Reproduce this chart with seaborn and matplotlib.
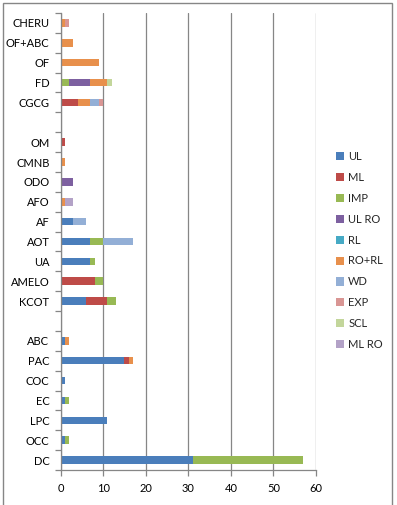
import numpy as np
import pandas as pd
import seaborn as sns
import matplotlib.pyplot as plt
from matplotlib.patches import Patch, Rectangle

# categories top to bottom (blank rows are spacers)
cats = ['CHERU', 'OF+ABC', 'OF', 'FD', 'CGCG', ' ',
        'OM', 'CMNB', 'ODO', 'AFO', 'AF', 'AOT', 'UA', 'AMELO', 'KCOT', '  ',
        'ABC', 'PAC', 'COC', 'EC', 'LPC', 'OCC', 'DC']

series = ['UL', 'ML', 'IMP', 'UL RO', 'RL', 'RO+RL', 'WD', 'EXP', 'SCL', 'ML RO']
colors = ['#4A7EBB', '#BE4B48', '#98B954', '#7D60A0', '#46AAC5',
          '#E8904C', '#93AFD6', '#D99694', '#C3D69B', '#B3A2C7']

#          CHERU OF+ABC OF FD CGCG _  OM CMNB ODO AFO AF AOT UA AMELO KCOT _ ABC PAC COC EC LPC OCC DC
ul     = [0, 0, 0, 0, 0, 0, 0, 0, 0, 0, 3, 7, 7, 0, 6, 0, 1, 15, 1, 1, 11, 1, 31]
ml     = [0, 0, 0, 0, 4, 0, 1, 0, 0, 0, 0, 0, 0, 8, 5, 0, 0, 1, 0, 0, 0, 0, 0]
imp    = [0, 0, 0, 2, 0, 0, 0, 0, 0, 0, 0, 3, 1, 2, 2, 0, 0, 0, 0, 1, 0, 1, 26]
ul_ro  = [0, 0, 0, 5, 0, 0, 0, 0, 3, 0, 0, 0, 0, 0, 0, 0, 0, 0, 0, 0, 0, 0, 0]
rl     = [0, 0, 0, 0, 0, 0, 0, 0, 0, 0, 0, 0, 0, 0, 0, 0, 0, 0, 0, 0, 0, 0, 0]
ro_rl  = [1, 3, 9, 4, 3, 0, 0, 1, 0, 1, 0, 0, 0, 0, 0, 0, 1, 1, 0, 0, 0, 0, 0]
wd     = [0, 0, 0, 0, 2, 0, 0, 0, 0, 0, 3, 7, 0, 0, 0, 0, 0, 0, 0, 0, 0, 0, 0]
exp    = [1, 0, 0, 0, 1, 0, 0, 0, 0, 0, 0, 0, 0, 0, 0, 0, 0, 0, 0, 0, 0, 0, 0]
scl    = [0, 0, 0, 1, 0, 0, 0, 0, 0, 0, 0, 0, 0, 0, 0, 0, 0, 0, 0, 0, 0, 0, 0]
ml_ro  = [0, 0, 0, 0, 0, 0, 0, 0, 0, 2, 0, 0, 0, 0, 0, 0, 0, 0, 0, 0, 0, 0, 0]

values = [ul, ml, imp, ul_ro, rl, ro_rl, wd, exp, scl, ml_ro]

sns.set_theme(style="white")
plt.rcParams['font.family'] = ['Lato', 'DejaVu Sans']

fig = plt.figure(figsize=(3.97, 5.05), dpi=100)
ax = fig.add_axes([60.5 / 397, 1 - 470 / 505, (316 - 60.5) / 397, (470 - 13) / 505])

df = pd.DataFrame(dict(zip(series, values)), index=cats)
cum = df.cumsum(axis=1)

# draw cumulative totals, longest first, so each segment shows through
for s, c in reversed(list(zip(series, colors))):
    d = pd.DataFrame({'cat': cats, 'val': cum[s].values})
    sns.barplot(data=d, x='val', y='cat', order=cats, orient='h', color=c,
                saturation=1, width=0.38, ax=ax, linewidth=0)

ax.set_xlim(0, 60)
ax.set_ylim(len(cats) - 0.5, -0.5)
ax.set_xticks(range(0, 61, 10))
ax.grid(axis='x', color='#868686', linewidth=0.9)
ax.set_axisbelow(True)
ax.set_xlabel('')
ax.set_ylabel('')

for sp in ['top', 'right']:
    ax.spines[sp].set_visible(False)
for sp in ['left', 'bottom']:
    ax.spines[sp].set_color('#868686')
    ax.spines[sp].set_linewidth(0.9)

ax.set_yticks(range(len(cats)))
ax.set_yticklabels(cats, fontsize=8, color='black')
ax.tick_params(axis='y', length=0, pad=8)
ax.set_yticks(np.arange(-0.5, len(cats), 1), minor=True)
ax.tick_params(axis='y', which='minor', length=4, color='#868686', width=0.9, left=True)
ax.tick_params(axis='x', length=4, color='#868686', width=0.9, bottom=True,
               labelsize=8, labelcolor='black', pad=5)

handles = [Patch(facecolor=c, edgecolor='none') for c in colors]
fig.legend(handles, series, loc='upper left', bbox_to_anchor=(336 / 397, 1 - 151 / 505),
           frameon=False, fontsize=8, handlelength=0.75, handleheight=0.75,
           handletextpad=0.35, labelspacing=0.89, borderaxespad=0, borderpad=0)

fig.patches.append(Rectangle((2.5 / 397, -0.05), (392 - 2.5) / 397, 1.05 - 2.5 / 505,
                             transform=fig.transFigure, fill=False,
                             edgecolor='#868686', linewidth=1))

fig.savefig('out.png', dpi=100)
